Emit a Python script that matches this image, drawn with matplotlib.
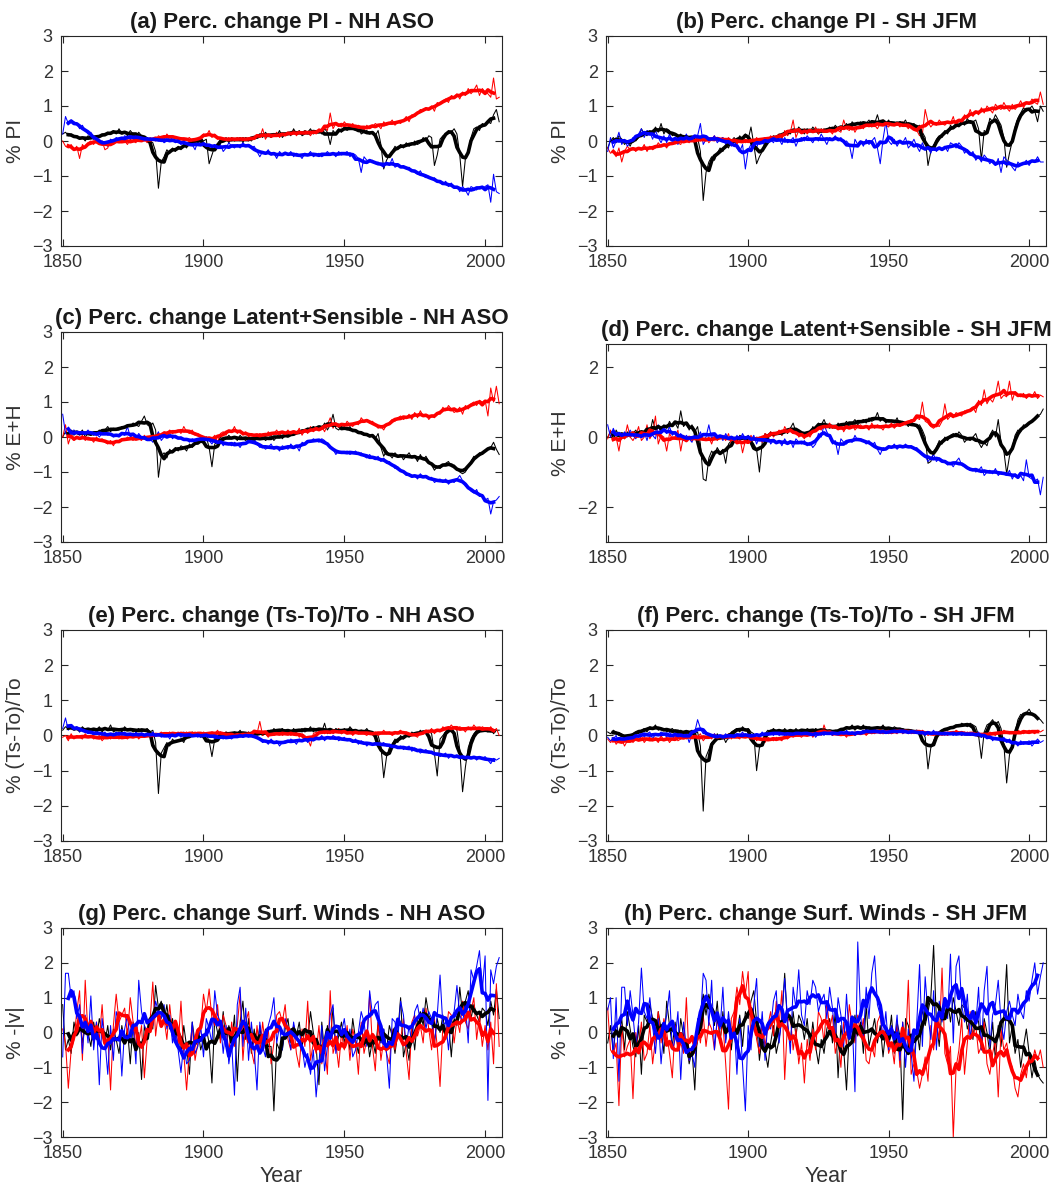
import numpy as np
import matplotlib
matplotlib.use("Agg")
import matplotlib.pyplot as plt

plt.rcParams['font.family'] = ['Liberation Sans', 'DejaVu Sans']

years = np.arange(1850, 2006)

# ---- (a) PI, NH ASO ----
pi_nh_k = [0.2, 0.25, 0.15, 0.2, 0.1, 0.15, 0.05, 0.1, 0.0, 0.15,
           0.1, 0.05, 0.15, 0.1, 0.2, 0.15, 0.25, 0.2, 0.3, 0.2,
           0.35, 0.2, 0.25, 0.15, 0.3, 0.2, 0.1, 0.25, 0.15, 0.05,
           0.1, 0.0, -0.05, -0.3, -1.35, -0.6, -0.45, -0.25, -0.35, -0.2,
           -0.3, -0.15, -0.25, -0.1, -0.2, 0.0, -0.1, 0.05, -0.05, 0.1,
           0.0, 0.05, -0.65, -0.4, -0.15, -0.1, 0.05, 0.0, 0.1, -0.05,
           0.1, 0.0, 0.05, 0.1, -0.05, 0.1, 0.05, 0.0, 0.1, 0.15,
           0.2, 0.1, 0.25, 0.15, 0.1, 0.2, 0.15, 0.3, 0.1, 0.2,
           0.25, 0.15, 0.35, 0.2, 0.3, 0.15, 0.2, 0.25, 0.35, 0.2,
           0.25, 0.3, 0.2, 0.35, 0.25, -0.1, 0.3, 0.2, 0.35, 0.25,
           0.4, 0.3, 0.45, 0.35, 0.3, 0.4, 0.2, 0.25, 0.3, 0.2,
           0.25, 0.15, 0.3, -0.1, -0.8, -0.55, -0.4, -0.3, -0.15, -0.25,
           -0.1, -0.2, -0.05, -0.15, -0.1, 0.0, -0.1, -0.05, 0.1, 0.0,
           0.15, 0.1, -0.7, -0.4, 0.05, 0.15, 0.2, 0.3, 0.25, 0.35,
           0.2, -0.4, -1.3, -0.5, -0.3, 0.1, 0.35, 0.4, 0.3, 0.5,
           0.45, 0.55, 0.5, 0.75, 0.9, 0.55]
pi_nh_r = [0.0, -0.15, -0.2, -0.1, -0.25, -0.15, -0.5, -0.1, -0.2, -0.05,
           0.0, -0.1, 0.05, -0.05, 0.0, -0.25, -0.2, 0.05, -0.1, 0.0,
           -0.05, 0.05, 0.0, -0.1, 0.05, 0.0, -0.05, 0.1, 0.0, 0.05,
           -0.05, 0.1, 0.05, 0.0, 0.15, 0.1, 0.05, 0.2, 0.1, 0.15,
           0.1, 0.05, 0.1, 0.0, 0.05, 0.1, 0.0, -0.05, 0.05, 0.1,
           0.2, 0.15, 0.3, 0.1, 0.2, 0.05, 0.1, 0.0, 0.05, 0.1,
           0.0, 0.05, 0.1, 0.0, 0.1, 0.05, 0.0, 0.1, 0.05, 0.15,
           0.1, 0.35, 0.05, 0.2, 0.1, 0.15, 0.25, 0.1, 0.2, 0.15,
           0.25, 0.2, 0.3, 0.15, 0.25, 0.2, 0.3, 0.25, 0.15, 0.3,
           0.2, 0.35, 0.25, 0.4, 0.3, 0.8, 0.35, 0.5, 0.45, 0.4,
           0.55, 0.45, 0.4, 0.5, 0.35, 0.45, 0.4, 0.3, 0.45, 0.35,
           0.4, 0.5, 0.45, 0.35, 0.55, 0.45, 0.5, 0.6, 0.45, 0.55,
           0.5, 0.6, 0.7, 0.55, 0.75, 0.7, 0.8, 0.9, 0.85, 0.95,
           0.9, 1.0, 0.85, 1.1, 1.05, 1.15, 1.2, 1.1, 1.3, 1.25,
           1.35, 1.2, 1.4, 1.3, 1.5, 1.35, 1.45, 1.6, 1.3, 1.5,
           1.4, 1.35, 1.25, 1.8, 1.2, 1.25]
pi_nh_b = [0.2, 0.7, 0.5, 0.6, 0.55, 0.5, 0.35, 0.45, 0.3, 0.2,
           0.25, 0.1, 0.05, -0.1, 0.0, -0.05, -0.15, 0.05, 0.0, 0.1,
           0.05, 0.0, 0.15, 0.1, 0.05, 0.2, 0.1, 0.05, 0.15, 0.0,
           0.1, 0.0, 0.05, 0.1, 0.0, 0.05, -0.05, 0.0, 0.1, 0.05,
           -0.05, 0.0, -0.1, 0.05, -0.15, -0.05, -0.1, -0.25, 0.0, -0.1,
           -0.05, -0.15, -0.1, -0.2, -0.1, -0.2, -0.1, -0.3, -0.2, -0.05,
           -0.15, -0.2, -0.1, -0.2, -0.05, -0.15, -0.1, -0.2, -0.15, -0.3,
           -0.45, -0.3, -0.35, -0.25, -0.4, -0.35, -0.5, -0.3, -0.4, -0.35,
           -0.4, -0.3, -0.45, -0.35, -0.4, -0.5, -0.35, -0.4, -0.3, -0.45,
           -0.4, -0.35, -0.45, -0.4, -0.3, -0.4, -0.35, -0.45, -0.3, -0.4,
           -0.35, -0.3, -0.45, -0.35, -0.4, -0.5, -0.9, -0.45, -0.55, -0.6,
           -0.55, -0.65, -0.6, -0.7, -0.75, -0.6, -0.7, -0.5, -0.75, -0.7,
           -0.75, -0.7, -0.8, -0.75, -0.85, -0.9, -0.95, -0.85, -1.0, -1.05,
           -1.0, -1.1, -1.05, -1.15, -1.2, -1.25, -1.15, -1.3, -1.2, -1.35,
           -1.3, -1.45, -1.3, -1.4, -1.55, -1.3, -1.35, -1.4, -1.3, -1.35,
           -1.3, -1.25, -1.75, -0.95, -1.45, -1.5]

# ---- (b) PI, SH JFM ----
pi_sh_k = [-0.2, 0.0, 0.1, -0.05, 0.15, 0.05, -0.1, 0.0, -0.15, 0.05,
           0.0, 0.1, 0.35, 0.2, 0.15, 0.3, 0.2, 0.4, 0.25, 0.5,
           0.2, 0.35, 0.3, 0.15, 0.2, 0.1, 0.2, 0.05, 0.15, 0.1,
           0.05, 0.15, 0.1, -0.3, -1.7, -0.9, -0.6, -0.45, -0.55, -0.35,
           -0.2, -0.3, -0.1, -0.2, 0.0, 0.1, -0.05, 0.15, 0.0, 0.2,
           0.05, 0.4, -0.1, -0.65, -0.45, -0.3, -0.05, 0.1, 0.0, 0.15,
           0.05, 0.2, 0.1, 0.25, 0.3, 0.2, 0.35, 0.25, 0.4, 0.3,
           0.2, 0.35, 0.25, 0.4, 0.3, 0.2, 0.35, 0.25, 0.3, 0.4,
           0.3, 0.45, 0.35, 0.3, 0.4, 0.5, 0.35, 0.55, 0.45, 0.5,
           0.55, 0.45, 0.5, 0.6, 0.4, 0.5, 0.75, 0.45, 0.55, 0.5,
           0.6, 0.45, 0.5, 0.55, 0.45, 0.5, 0.6, 0.4, 0.45, 0.5,
           0.4, 0.45, 0.25, 0.1, -0.7, -0.3, -0.15, 0.05, 0.15, 0.1,
           0.3, 0.2, 0.45, 0.35, 0.5, 0.4, 0.55, 0.45, 0.65, 0.5,
           0.55, 0.6, 0.35, -0.55, 0.3, 0.25, 0.65, 0.55, 0.75, 0.6,
           0.45, 0.1, -0.75, -0.35, 0.0, 0.4, 0.65, 0.8, 0.95, 0.85,
           0.9, 1.0, 0.85, 0.55, 1.0, 0.85]
pi_sh_r = [-0.2, -0.35, -0.3, -0.45, -0.2, -0.6, -0.3, -0.15, -0.25, -0.2,
           -0.3, -0.2, -0.25, -0.1, -0.3, -0.15, -0.25, -0.2, -0.05, -0.15,
           -0.1, -0.2, -0.05, -0.1, 0.05, -0.05, -0.1, 0.1, 0.0, -0.05,
           0.05, -0.05, 0.1, 0.0, 0.05, 0.1, -0.05, 0.05, 0.15, 0.0,
           0.05, 0.1, -0.05, 0.1, 0.0, 0.05, -0.1, 0.05, 0.0, -0.05,
           0.0, 0.05, -0.05, 0.1, 0.0, 0.05, 0.1, 0.0, 0.15, 0.05,
           0.1, 0.2, 0.05, 0.3, 0.15, 0.25, 0.6, 0.1, 0.3, 0.25,
           0.35, 0.2, 0.3, 0.25, 0.4, 0.2, 0.3, 0.35, 0.25, 0.3,
           0.2, 0.4, 0.3, 0.25, 0.6, 0.35, 0.3, 0.45, 0.25, 0.4,
           0.45, 0.35, 0.5, 0.4, 0.55, 0.45, 0.35, 0.5, 0.6, 0.45,
           0.4, 0.55, 0.45, 0.5, 0.4, 0.55, 0.45, 0.35, 0.5, 0.4,
           0.3, 0.15, 0.2, 0.9, 0.55, 0.4, 0.5, 0.45, 0.6, 0.5,
           0.45, 0.55, 0.5, 0.7, 0.4, 0.6, 0.5, 0.75, 0.65, 0.9,
           0.7, 0.85, 0.75, 0.95, 0.8, 1.0, 0.9, 0.8, 1.05, 0.95,
           0.9, 1.1, 0.95, 0.85, 1.05, 0.9, 1.0, 1.15, 0.95, 1.1,
           1.05, 1.2, 1.1, 1.05, 1.4, 1.05]
pi_sh_b = [-0.3, 0.1, -0.2, 0.0, 0.25, -0.1, 0.05, -0.15, -0.05, 0.1,
           0.05, 0.2, 0.35, 0.1, 0.3, 0.25, 0.05, 0.3, 0.1, -0.05,
           0.15, -0.05, 0.2, 0.0, 0.1, -0.1, 0.15, 0.05, 0.2, 0.0,
           0.1, -0.05, 0.15, 0.5, -0.1, 0.05, 0.1, 0.05, 0.15, -0.05,
           0.05, 0.1, -0.1, 0.0, -0.15, 0.05, -0.2, -0.3, -0.1, -0.8,
           -0.25, -0.1, 0.0, -0.2, 0.05, 0.0, -0.15, 0.1, 0.05, -0.05,
           0.15, 0.05, -0.1, 0.1, -0.05, 0.0, 0.1, -0.15, 0.05, 0.1,
           0.0, 0.15, 0.05, -0.05, 0.1, 0.0, 0.2, 0.05, -0.1, 0.1,
           0.05, 0.15, 0.0, 0.1, -0.05, 0.0, -0.1, -0.5, 0.05, -0.1,
           0.0, -0.15, 0.05, -0.1, 0.0, 0.1, -0.2, -0.65, 0.05, 0.55,
           0.0, -0.1, 0.05, -0.15, 0.0, -0.05, 0.1, -0.2, -0.1, 0.05,
           -0.15, -0.3, -0.05, -0.25, -0.2, -0.35, -0.1, -0.3, -0.2, -0.25,
           -0.15, -0.3, -0.05, -0.1, -0.2, -0.05, -0.15, -0.35, -0.25, -0.4,
           -0.3, -0.55, -0.45, -0.6, -0.4, -0.5, -0.65, -0.55, -0.7, -0.5,
           -0.9, -0.45, -0.55, -0.6, -0.75, -0.85, -0.6, -0.7, -0.65, -0.55,
           -0.7, -0.55, -0.6, -0.45, -0.6, -0.6]

# ---- (c) E+H, NH ASO ----
eh_nh_k = [0.0, 0.15, 0.1, 0.2, 0.05, 0.15, 0.1, 0.2, 0.0, 0.1,
           0.15, 0.05, 0.1, 0.2, 0.1, 0.2, 0.3, 0.15, 0.25, 0.2,
           0.2, 0.3, 0.25, 0.35, 0.3, 0.4, 0.35, 0.3, 0.45, 0.6,
           0.35, 0.3, 0.4, 0.2, -1.15, -0.55, -0.45, -0.6, -0.35, -0.45,
           -0.3, -0.4, -0.25, -0.3, -0.4, -0.2, -0.3, -0.15, -0.2, -0.05,
           -0.15, 0.0, -0.3, -0.85, -0.2, -0.15, 0.0, -0.1, -0.05, 0.05,
           -0.05, 0.0, -0.1, 0.05, -0.05, -0.1, 0.0, -0.05, -0.1, 0.0,
           -0.05, 0.0, -0.1, -0.05, 0.05, -0.1, 0.0, 0.1, -0.05, 0.05,
           0.0, 0.1, 0.05, 0.15, 0.1, 0.2, 0.15, 0.25, 0.2, 0.3,
           0.2, 0.3, 0.25, 0.4, 0.2, 0.35, 0.65, 0.25, 0.2, 0.3,
           0.25, 0.2, 0.3, 0.15, 0.2, 0.1, 0.15, 0.05, 0.1, 0.0,
           0.05, -0.05, 0.1, -0.3, -0.55, -0.4, -0.5, -0.6, -0.45, -0.55,
           -0.5, -0.65, -0.55, -0.45, -0.6, -0.55, -0.7, -0.5, -0.65, -0.55,
           -0.7, -0.8, -0.95, -0.85, -0.9, -0.8, -0.75, -0.7, -0.85, -0.8,
           -0.9, -1.0, -1.05, -1.0, -0.85, -0.7, -0.55, -0.6, -0.45, -0.5,
           -0.4, -0.35, -0.3, -0.15, -0.35, -0.5]
eh_nh_r = [0.0, 0.35, -0.2, 0.05, -0.1, 0.0, -0.05, 0.05, -0.1, 0.0,
           -0.05, -0.15, 0.0, -0.1, -0.05, -0.15, -0.2, -0.1, -0.25, -0.1,
           -0.15, -0.05, -0.1, 0.0, -0.05, -0.1, 0.0, -0.05, -0.1, 0.05,
           -0.05, 0.0, 0.05, -0.05, 0.1, 0.0, 0.15, 0.1, 0.2, 0.1,
           0.15, 0.2, 0.1, 0.3, 0.15, 0.1, 0.2, 0.05, 0.1, 0.0,
           -0.05, 0.0, -0.1, -0.05, 0.05, -0.15, 0.1, 0.15, 0.05, 0.2,
           0.15, 0.3, 0.1, 0.2, 0.05, 0.15, 0.0, 0.1, 0.05, 0.0,
           0.1, 0.05, 0.0, 0.15, 0.05, 0.1, 0.2, 0.05, 0.15, 0.1,
           0.2, 0.05, 0.15, 0.1, 0.25, 0.05, 0.2, 0.1, 0.3, 0.15,
           0.25, 0.2, 0.3, 0.15, 0.35, 0.55, 0.25, 0.4, 0.3, 0.35,
           0.3, 0.45, 0.35, 0.3, 0.4, 0.35, 0.55, 0.45, 0.5, 0.4,
           0.45, 0.35, 0.25, 0.3, 0.2, 0.35, 0.4, 0.5, 0.45, 0.55,
           0.6, 0.5, 0.55, 0.65, 0.5, 0.7, 0.55, 0.75, 0.6, 0.65,
           0.5, 0.6, 0.55, 0.7, 0.65, 0.85, 0.75, 0.9, 0.8, 0.7,
           0.75, 0.85, 0.65, 0.9, 0.8, 0.95, 1.0, 0.9, 1.05, 1.0,
           1.05, 0.6, 1.4, 1.0, 1.45, 0.95]
eh_nh_b = [0.65, 0.1, 0.05, 0.15, 0.2, 0.1, 0.05, 0.15, 0.1, 0.2,
           0.05, 0.15, 0.1, 0.0, 0.1, 0.2, 0.05, 0.1, 0.0, 0.05,
           0.0, 0.1, 0.05, 0.3, 0.0, 0.05, -0.05, 0.1, 0.0, -0.05,
           -0.1, -0.05, -0.15, 0.0, 0.15, -0.1, 0.0, 0.05, 0.1, -0.05,
           0.05, -0.05, 0.0, -0.1, -0.05, -0.15, -0.05, -0.1, -0.15, 0.0,
           -0.05, 0.0, -0.1, -0.2, -0.05, -0.15, -0.1, -0.25, -0.15, -0.2,
           -0.25, -0.15, -0.2, -0.3, -0.15, -0.2, -0.1, -0.15, -0.05, -0.2,
           -0.3, -0.25, -0.35, -0.3, -0.2, -0.35, -0.3, -0.4, -0.25, -0.3,
           -0.35, -0.2, -0.3, -0.25, -0.4, -0.15, -0.2, -0.1, -0.15, -0.05,
           -0.1, -0.15, -0.05, -0.1, -0.2, -0.3, -0.35, -0.5, -0.4, -0.45,
           -0.45, -0.4, -0.5, -0.45, -0.4, -0.5, -0.45, -0.55, -0.6, -0.5,
           -0.6, -0.65, -0.55, -0.7, -0.6, -0.75, -0.7, -0.8, -0.9, -0.85,
           -0.95, -1.0, -1.1, -1.05, -1.15, -1.1, -1.2, -1.05, -1.15, -1.1,
           -1.2, -1.15, -1.3, -1.25, -1.2, -1.3, -1.2, -1.35, -1.25, -1.3,
           -1.2, -1.1, -1.25, -1.4, -1.45, -1.55, -1.6, -1.5, -1.7, -1.65,
           -1.8, -1.75, -2.2, -1.85, -1.8, -1.7]

# ---- (d) E+H, SH JFM ----
eh_sh_k = [0.0, 0.15, -0.1, 0.2, 0.05, 0.1, -0.05, 0.15, 0.0, 0.1,
           0.2, 0.05, 0.15, 0.1, 0.25, 0.1, 0.5, 0.2, 0.3, 0.15,
           0.35, 0.25, 0.45, 0.3, 0.4, 0.25, 0.75, 0.3, 0.4, 0.2,
           0.35, 0.15, 0.3, -0.2, -1.2, -1.25, -0.6, -0.4, -0.5, -0.3,
           -0.45, -0.35, -0.75, -0.2, -0.1, 0.0, -0.15, 0.05, 0.0, -0.1,
           0.05, -0.1, -0.2, -0.35, -1.0, -0.15, 0.1, 0.0, 0.15, 0.05,
           0.1, 0.15, 0.05, 0.2, 0.1, 0.25, 0.4, 0.15, 0.2, 0.1,
           0.0, 0.15, 0.05, 0.3, 0.2, 0.4, 0.35, 0.5, 0.3, 0.25,
           0.3, 0.25, 0.4, 0.3, 0.35, 0.45, 0.3, 0.4, 0.5, 0.35,
           0.45, 0.5, 0.4, 0.55, 0.45, 0.5, 0.7, 0.45, 0.55, 0.4,
           0.5, 0.45, 0.4, 0.55, 0.35, 0.45, 0.4, 0.3, 0.45, 0.35,
           0.3, 0.35, 0.2, 0.0, -0.75, -0.7, -0.45, -0.3, -0.1, -0.2,
           0.0, -0.1, 0.05, 0.1, 0.0, 0.15, 0.05, -0.15, -0.05, -0.1,
           0.0, 0.1, -0.15, -0.3, -0.15, -0.25, 0.05, 0.2, 0.0, 0.5,
           -0.15, -0.4, -1.05, -0.55, -0.3, 0.05, 0.2, 0.15, 0.35, 0.3,
           0.4, 0.45, 0.5, 0.6, 0.65, 0.8]
eh_sh_r = [-0.05, 0.2, -0.1, 0.0, -0.4, 0.1, -0.05, 0.35, 0.0, -0.1,
           0.05, 0.3, -0.1, 0.0, 0.35, -0.05, 0.1, 0.6, -0.2, 0.05,
           0.0, -0.4, 0.1, -0.05, 0.0, 0.2, -0.4, 0.05, -0.05, 0.0,
           -0.1, 0.05, -0.15, 0.0, -0.05, -0.1, 0.0, -0.2, 0.05, -0.1,
           0.0, 0.05, -0.1, 0.1, -0.2, -0.05, -0.1, 0.0, -0.45, -0.1,
           -0.15, 0.05, -0.1, 0.0, -0.05, -0.15, 0.1, 0.05, 0.15, 0.0,
           0.1, 0.2, 0.05, 0.3, 0.15, 0.2, 0.1, 0.25, 0.0, 0.05,
           -0.05, 0.1, 0.0, 0.15, 0.3, 0.25, 0.2, 0.35, 0.3, 0.4,
           0.25, 0.3, 0.2, 0.35, 0.15, 0.3, 0.25, 0.4, 0.2, 0.3,
           0.35, 0.25, 0.3, 0.2, 0.4, 0.25, 0.35, 0.3, 0.2, 0.35,
           0.3, 0.4, 0.25, 0.35, 0.3, 0.45, 0.35, 0.4, 0.5, 0.45,
           0.55, 0.5, 1.0, 0.45, 0.4, 0.3, 0.25, 0.35, 0.3, 0.45,
           0.95, 0.5, 0.6, 0.55, 0.7, 0.65, 0.6, 0.75, 0.7, 0.8,
           0.85, 0.7, 1.05, 0.9, 1.35, 0.95, 1.1, 1.0, 1.2, 1.6,
           1.1, 1.2, 1.15, 1.6, 1.05, 1.3, 1.2, 1.15, 1.25, 1.1,
           1.2, 1.15, 1.3, 1.1, 1.2, 1.15]
eh_sh_b = [0.35, 0.0, 0.25, 0.05, 0.1, -0.05, 0.15, 0.0, 0.2, 0.05,
           -0.05, 0.1, 0.0, 0.15, -0.1, 0.2, 0.05, -0.05, 0.35, 0.1,
           0.2, 0.1, 0.3, 0.05, 0.15, 0.0, 0.1, -0.1, 0.05, -0.05,
           -0.15, 0.1, -0.05, 0.15, -0.1, 0.0, 0.35, -0.05, 0.1, 0.0,
           0.05, -0.1, 0.1, -0.05, 0.0, -0.15, 0.05, -0.1, 0.1, -0.05,
           0.0, -0.1, 0.05, -0.2, 0.0, -0.1, -0.15, 0.05, -0.2, -0.1,
           -0.15, -0.1, -0.25, -0.05, -0.2, -0.1, -0.3, -0.05, -0.15, -0.2,
           -0.1, -0.25, -0.15, -0.3, -0.2, 0.1, 0.0, 0.35, 0.15, 0.0,
           -0.2, -0.1, -0.5, -0.05, -0.15, -0.2, -0.1, -0.15, 0.05, -0.1,
           -0.05, -0.1, -0.2, -0.1, -0.25, -0.15, -0.35, -0.5, -0.3, -0.35,
           -0.25, -0.3, -0.2, -0.35, -0.25, -0.3, -0.2, -0.3, -0.25, -0.35,
           -0.3, -0.4, -0.5, -0.55, -0.7, -0.6, -0.5, -0.7, -0.6, -0.65,
           -0.7, -0.8, -0.75, -0.85, -0.7, -0.6, -0.8, -0.85, -0.9, -0.95,
           -0.9, -1.0, -0.95, -0.85, -1.1, -1.0, -0.95, -1.05, -0.9, -1.1,
           -1.0, -1.05, -1.1, -0.95, -1.2, -1.05, -1.15, -1.1, -1.25, -0.65,
           -1.15, -1.2, -1.25, -1.2, -1.65, -1.15]

# ---- (e) (Ts-To)/To, NH ASO ----
ts_nh_k = [0.15, 0.25, 0.2, 0.3, 0.15, 0.2, 0.1, 0.25, 0.15, 0.2,
           0.1, 0.2, 0.15, 0.25, 0.1, 0.2, 0.15, 0.3, 0.1, 0.15,
           0.2, 0.1, 0.25, 0.15, 0.2, 0.1, 0.15, 0.2, 0.1, 0.15,
           0.2, 0.1, 0.15, -0.2, -1.65, -0.5, -0.35, -0.2, -0.3, -0.1,
           -0.2, -0.15, -0.1, -0.2, 0.0, -0.05, 0.1, 0.0, 0.05, -0.05,
           0.05, 0.0, -0.15, -0.6, -0.1, -0.05, 0.1, 0.0, 0.1, 0.05,
           0.0, 0.1, 0.05, 0.15, 0.0, 0.05, 0.1, 0.0, 0.05, 0.1,
           0.05, 0.0, 0.1, 0.15, 0.05, 0.2, 0.1, 0.15, 0.2, 0.1,
           0.15, 0.05, 0.2, 0.1, 0.15, 0.2, 0.1, 0.15, 0.25, 0.1,
           0.2, 0.15, 0.1, 0.35, 0.05, 0.15, 0.1, 0.2, 0.15, 0.05,
           0.2, 0.1, 0.25, 0.15, 0.1, 0.05, 0.15, 0.1, 0.2, 0.05,
           0.1, 0.05, 0.0, -0.3, -1.2, -0.6, -0.35, -0.25, -0.1, -0.2,
           0.0, -0.1, 0.05, -0.05, 0.1, 0.0, 0.05, 0.15, 0.05, 0.1,
           0.15, 0.05, -0.5, -1.15, -0.1, 0.0, 0.1, 0.2, 0.1, 0.25,
           0.15, -0.4, -1.6, -0.9, -0.35, -0.1, 0.05, 0.15, 0.1, 0.2,
           0.15, 0.1, 0.2, 0.05, 0.15, 0.15]
ts_nh_r = [-0.05, 0.0, -0.15, 0.05, -0.1, 0.0, -0.05, -0.1, 0.05, -0.05,
           0.0, -0.1, -0.05, 0.0, -0.15, -0.05, 0.0, -0.1, 0.0, -0.05,
           -0.1, 0.0, -0.05, -0.1, 0.0, -0.05, 0.05, -0.1, 0.0, -0.05,
           0.0, 0.05, -0.05, 0.05, 0.0, 0.1, 0.0, 0.05, 0.1, 0.0,
           0.05, 0.1, 0.0, 0.05, 0.1, 0.0, 0.05, 0.1, 0.05, 0.0,
           0.1, 0.05, 0.0, 0.1, 0.05, 0.15, 0.0, 0.05, 0.1, -0.05,
           0.05, 0.0, 0.05, -0.05, 0.05, 0.0, 0.1, 0.05, 0.0, 0.05,
           0.4, 0.0, 0.05, -0.05, 0.1, 0.0, 0.05, 0.1, 0.0, 0.05,
           0.1, 0.0, 0.05, 0.1, -0.05, 0.05, 0.0, -0.1, -0.3, 0.05,
           0.1, 0.05, 0.15, 0.05, 0.1, 0.15, 0.05, 0.1, 0.2, 0.05,
           0.1, 0.05, 0.15, 0.0, 0.1, 0.05, 0.15, 0.05, 0.0, 0.1,
           0.05, 0.1, 0.0, 0.05, 0.15, 0.05, 0.1, 0.0, 0.05, 0.1,
           0.15, 0.05, 0.1, 0.0, 0.05, 0.0, -0.05, 0.1, 0.05, 0.15,
           0.1, 0.2, 0.05, 0.15, 0.1, 0.25, 0.15, 0.2, 0.3, 0.2,
           0.15, 0.25, 0.2, 0.1, 0.25, 0.15, 0.3, 0.2, 0.1, 0.25,
           0.2, 0.15, 0.25, 0.1, 0.2, 0.0]
ts_nh_b = [0.2, 0.5, 0.15, 0.3, 0.2, 0.25, 0.1, 0.2, 0.15, 0.05,
           0.1, 0.0, 0.15, 0.05, 0.0, 0.1, -0.05, 0.05, 0.0, 0.1,
           0.0, 0.05, 0.1, 0.0, 0.05, -0.05, 0.1, 0.0, 0.05, 0.0,
           0.05, -0.05, 0.1, 0.0, 0.05, -0.05, 0.0, 0.05, -0.1, 0.05,
           0.0, 0.05, -0.05, 0.1, 0.0, -0.05, 0.05, 0.0, -0.05, 0.05,
           0.0, -0.05, 0.05, 0.0, -0.1, 0.0, -0.05, -0.1, 0.0, -0.05,
           -0.1, 0.0, -0.05, 0.05, -0.05, 0.0, -0.05, 0.05, 0.0, -0.05,
           -0.1, -0.2, -0.15, -0.25, -0.1, -0.2, -0.15, -0.3, -0.2, -0.15,
           -0.2, -0.1, -0.15, -0.25, -0.1, -0.15, -0.05, -0.2, -0.1, -0.15,
           -0.05, -0.1, 0.0, -0.15, -0.05, -0.1, 0.0, -0.05, -0.15, -0.1,
           -0.05, -0.15, -0.1, -0.2, -0.1, -0.25, -0.15, -0.2, -0.3, -0.2,
           -0.25, -0.2, -0.3, -0.25, -0.2, -0.3, -0.25, -0.35, -0.3, -0.35,
           -0.3, -0.4, -0.35, -0.3, -0.45, -0.35, -0.4, -0.5, -0.45, -0.4,
           -0.5, -0.45, -0.55, -0.5, -0.6, -0.55, -0.5, -0.65, -0.55, -0.6,
           -0.55, -0.65, -0.6, -0.7, -0.55, -0.65, -0.6, -0.7, -0.6, -0.65,
           -0.6, -0.7, -0.8, -0.65, -0.7, -0.65]

# ---- (f) (Ts-To)/To, SH JFM ----
ts_sh_k = [0.1, 0.05, 0.15, 0.1, 0.0, 0.05, -0.05, -0.1, 0.0, 0.05,
           0.1, 0.05, 0.15, 0.2, 0.1, 0.25, 0.2, 0.3, 0.15, 0.2,
           0.2, 0.1, 0.15, 0.2, 0.1, 0.05, 0.15, 0.1, 0.05, 0.1,
           0.15, 0.05, 0.1, -0.3, -2.15, -0.6, -0.4, -0.2, -0.15, 0.05,
           -0.1, 0.0, -0.2, -0.05, 0.1, 0.15, 0.2, 0.1, 0.25, 0.15,
           0.2, 0.1, 0.05, -1.0, -0.35, -0.2, 0.05, 0.15, 0.1, 0.2,
           0.1, 0.15, 0.05, 0.2, 0.1, 0.15, 0.05, 0.2, 0.1, 0.15,
           0.1, 0.2, 0.15, 0.05, 0.2, 0.15, 0.1, 0.2, 0.15, 0.1,
           0.05, 0.15, 0.1, 0.2, 0.15, 0.25, 0.2, 0.3, 0.15, 0.25,
           0.2, 0.3, 0.15, 0.25, 0.2, 0.15, 0.25, 0.2, 0.3, 0.15,
           0.2, 0.15, 0.25, 0.2, 0.1, 0.2, 0.15, 0.1, 0.15, 0.1,
           0.15, 0.05, 0.1, -0.05, -0.95, -0.35, -0.15, 0.05, 0.1, 0.15,
           0.2, 0.15, 0.25, 0.2, 0.3, 0.25, 0.35, 0.3, 0.25, 0.35,
           0.3, 0.25, 0.0, -0.65, 0.1, 0.3, 0.35, 0.45, 0.3, 0.4,
           0.2, -0.25, -1.35, -0.55, -0.3, 0.1, 0.45, 0.6, 0.55, 0.65,
           0.75, 0.6, 0.55, 0.5, 0.45, 0.35]
ts_sh_r = [-0.1, -0.2, -0.05, -0.25, -0.15, -0.1, -0.3, -0.15, -0.05, -0.2,
           -0.1, -0.15, 0.0, -0.2, -0.1, -0.05, -0.15, -0.1, -0.2, 0.0,
           -0.15, -0.05, -0.2, -0.1, 0.0, -0.15, -0.1, 0.05, -0.1, -0.05,
           0.0, -0.1, -0.05, 0.05, -0.15, -0.05, 0.0, -0.1, 0.05, -0.05,
           0.0, -0.1, -0.05, 0.05, -0.1, 0.0, -0.05, -0.1, 0.05, 0.0,
           -0.05, -0.1, 0.0, -0.15, -0.05, -0.1, -0.2, -0.05, -0.1, -0.15,
           -0.05, -0.1, -0.15, 0.0, -0.1, 0.05, -0.05, 0.1, 0.0, -0.05,
           0.05, 0.0, 0.1, -0.05, 0.05, 0.15, 0.0, 0.3, 0.05, 0.1,
           0.0, 0.05, 0.1, 0.0, 0.05, -0.05, 0.1, 0.05, 0.0, 0.1,
           0.05, 0.15, 0.0, 0.1, 0.05, 0.2, 0.1, 0.05, 0.15, 0.1,
           0.05, 0.15, 0.1, 0.05, 0.2, 0.1, 0.15, 0.05, 0.1, 0.15,
           0.1, 0.05, 0.15, 0.1, 0.0, 0.05, 0.1, 0.0, 0.05, 0.1,
           0.05, 0.0, 0.1, 0.05, 0.15, 0.1, 0.0, 0.05, 0.1, 0.05,
           0.0, 0.1, 0.05, -0.05, 0.05, 0.0, 0.1, 0.05, 0.0, 0.1,
           0.05, 0.15, 0.1, 0.05, 0.1, 0.0, 0.15, 0.1, 0.05, 0.1,
           0.15, 0.1, 0.05, 0.15, 0.1, 0.15]
ts_sh_b = [-0.05, -0.15, -0.1, 0.0, -0.2, -0.1, -0.05, -0.15, 0.0, -0.1,
           -0.05, 0.0, 0.1, -0.05, 0.05, 0.1, -0.1, 0.05, 0.0, 0.1,
           0.05, -0.05, 0.1, 0.0, -0.1, 0.05, 0.1, -0.05, 0.05, -0.2,
           0.05, 0.1, 0.45, 0.2, 0.05, 0.1, 0.0, -0.05, 0.05, -0.1,
           0.0, -0.05, 0.05, -0.1, 0.0, 0.05, -0.05, 0.0, 0.1, -0.05,
           0.0, 0.05, -0.1, 0.05, 0.0, 0.1, -0.05, 0.05, 0.1, 0.0,
           0.15, 0.0, 0.05, 0.1, -0.05, 0.1, 0.05, 0.0, 0.1, 0.05,
           0.1, 0.0, 0.05, 0.1, -0.05, 0.05, 0.1, 0.0, 0.15, 0.05,
           0.0, 0.1, 0.05, 0.1, 0.0, 0.15, 0.05, 0.1, 0.0, 0.05,
           0.1, 0.15, 0.05, 0.1, 0.2, 0.05, 0.15, 0.1, 0.05, 0.15,
           0.1, 0.05, 0.15, 0.1, 0.2, 0.05, 0.1, 0.15, 0.05, 0.1,
           0.15, 0.05, 0.1, 0.0, 0.1, 0.05, 0.15, 0.0, 0.05, 0.1,
           0.0, 0.1, 0.05, 0.0, 0.1, 0.05, 0.0, 0.1, 0.05, 0.0,
           0.05, 0.0, 0.1, -0.05, 0.05, -0.1, 0.0, -0.15, -0.05, -0.1,
           -0.15, -0.05, -0.2, -0.1, -0.25, -0.2, -0.3, -0.15, -0.25, -0.2,
           -0.15, -0.3, -0.2, -0.1, -0.2, -0.15]

# ---- (g) surface winds, NH ASO ----
uv_nh_k = [0.8, -0.5, -0.2, -0.6, 0.3, -0.1, 0.5, -0.3, 0.2, 0.0,
           -0.4, 0.3, -0.2, 0.4, 0.0, -0.3, 0.2, -0.5, 0.1, -0.2,
           -0.6, 0.2, -0.3, 0.1, -0.9, 0.3, -0.5, 0.0, -1.35, 0.2,
           -0.2, 0.4, 0.1, 1.35, 0.7, 0.9, 0.3, 0.8, 0.1, 0.4,
           -0.2, 0.1, -0.6, 0.2, -0.4, -1.2, 0.3, -0.3, 0.1, -0.5,
           -0.2, 0.1, -0.3, -1.45, 0.4, 0.0, -0.2, 0.6, -0.4, 0.2,
           -0.3, 0.5, -1.4, 0.3, 0.9, -0.2, 0.4, -0.6, 0.1, -0.4,
           0.2, -0.5, 0.1, -0.4, -0.4, -2.25, -0.3, -0.5, -0.5, 0.1,
           0.4, -0.3, 0.2, -0.1, 0.3, -0.4, 0.1, -0.2, 0.6, 0.0,
           -0.4, -1.5, 0.3, -0.6, 0.2, -0.2, 0.7, -0.5, -0.1, 0.3,
           -0.3, 0.1, -0.5, 0.4, -0.2, -0.6, 0.2, -0.4, 0.0, -0.7,
           -0.2, -0.6, 0.3, -0.3, 0.1, -0.5, 0.2, -0.1, -0.6, 0.0,
           1.0, -0.7, -0.3, -0.8, 0.2, -0.5, 0.4, 0.6, 0.2, 1.0,
           0.5, 0.3, -0.3, 0.4, 0.0, 0.5, -0.2, 0.3, -0.7, 0.4,
           0.2, 1.3, 0.5, 0.9, 1.2, 0.4, 0.8, 0.5, 0.3, 0.7,
           0.6, 0.2, 0.9, 0.5, 1.25, 0.4]
uv_nh_r = [0.1, -0.3, -1.6, -0.5, -0.2, 0.6, 1.2, -0.8, 1.5, -0.1,
           0.2, -0.3, 0.3, -0.2, 0.8, -0.4, -0.1, -1.65, 0.2, 1.1,
           0.3, 0.5, 0.7, -0.1, 1.0, 0.3, -0.5, -0.3, 0.2, -1.3,
           -0.2, 0.3, 1.45, -0.1, 0.6, 0.2, 0.4, -0.2, 0.8, 0.0,
           0.3, -0.4, 0.9, -0.6, -1.65, -0.5, 0.2, -0.8, -0.3, 0.1,
           1.1, 0.6, 1.25, 0.4, 0.2, 0.8, -0.3, 0.5, 0.2, -0.6,
           0.3, -0.4, 0.2, 1.1, -0.8, 0.3, 0.6, -0.5, -0.9, 0.2,
           -0.6, 0.3, -0.4, 0.1, -0.9, -0.3, 0.5, 0.6, 0.3, 0.8,
           -0.2, -0.5, 0.2, -0.6, -1.0, 0.1, -0.4, 0.9, -0.8, -0.3,
           -0.6, 0.2, -0.9, -0.4, -1.2, 1.2, -0.6, -0.3, -1.0, 0.0,
           -0.5, 0.2, -0.8, 0.1, -0.3, -1.2, 0.3, -0.6, -0.2, 1.1,
           -0.4, -1.1, 0.3, -0.8, -0.2, -0.6, -0.9, 0.1, -0.5, 0.0,
           -0.2, 0.4, -0.6, -1.35, 0.3, 0.5, -0.1, 0.2, -0.3, 0.7,
           0.1, -0.5, 0.4, -0.4, -1.55, 0.2, -0.2, 0.6, 0.5, -0.3,
           0.4, 0.0, 0.9, 0.3, 0.1, 0.6, 1.0, -0.2, 0.5, -0.4,
           0.2, -0.5, 0.3, -0.9, 1.4, -0.4]
uv_nh_b = [-0.7, 1.7, 1.7, 1.0, 1.2, 0.4, 0.8, -0.6, 0.5, -0.3,
           1.05, -0.5, 0.3, -1.5, 0.4, -0.2, -1.2, 0.2, -0.8, 0.6,
           0.3, -1.25, 0.1, 0.5, -0.3, 0.2, -0.9, 1.5, 0.6, 0.2,
           0.0, 0.4, 0.2, 0.9, 0.6, 0.4, 0.8, 0.1, 0.5, -0.3,
           0.2, -0.5, -1.15, -0.3, -0.9, -0.8, 0.3, -0.6, -0.4, 0.2,
           -0.7, 0.4, 0.1, -0.3, 1.2, 0.5, 0.3, -0.6, 0.2, -0.9,
           -0.3, -1.8, 0.8, 1.3, -0.4, 0.7, -0.8, 0.3, -0.5, -1.65,
           0.3, -0.4, -0.7, 0.2, 0.5, 1.0, -0.3, 0.2, -0.5, 0.4,
           0.1, -0.5, 0.3, -0.2, 0.0, -0.4, -1.0, -0.6, -1.2, -0.5,
           -1.85, -0.9, 0.2, -1.1, -0.4, 0.5, 0.8, -0.6, 0.2, 0.0,
           0.4, -0.3, 0.1, -0.7, -0.5, 0.0, 0.6, 0.3, -0.4, 1.2,
           0.5, 0.8, 0.9, -0.3, 0.1, -0.6, -1.6, 0.4, 0.3, -0.2,
           0.9, 0.5, -0.4, 0.2, -0.3, 0.6, 0.8, 0.3, 0.7, 0.1,
           0.6, 0.4, -0.3, 0.5, 1.65, 0.2, 0.3, -0.5, 0.4, 0.6,
           1.35, 0.5, 0.3, 0.8, -0.3, 1.8, 1.5, 1.9, 2.35, 1.2,
           2.2, -1.95, 1.8, 1.4, 1.9, 2.15]

# ---- (h) surface winds, SH JFM ----
uv_sh_k = [-0.3, 0.2, -0.6, 0.3, -0.1, 0.4, -0.5, 0.6, 0.1, -0.4,
           -0.7, 0.2, -1.2, 0.5, 0.3, 0.8, 0.4, -0.2, 0.6, 0.1,
           -0.6, 0.9, 0.2, -0.4, 0.3, -0.5, 0.4, -0.1, -0.3, -0.9,
           -0.5, -1.65, 0.2, 0.6, 1.1, 0.5, 1.1, 0.7, 0.2, 0.9,
           -0.3, 0.6, -0.2, 0.4, -0.5, 0.3, 0.0, 0.5, -0.4, 0.6,
           0.4, 0.9, 1.2, 0.3, -0.8, -0.1, -0.5, -1.0, -0.3, 0.2,
           -0.6, -0.2, 0.4, 1.7, 0.2, -0.3, 0.6, -0.1, 0.5, 0.3,
           -0.2, 0.4, -0.5, 0.3, -0.4, -0.9, -0.2, -0.6, 0.1, 0.4,
           -0.3, 0.6, -1.3, 0.2, -0.5, -1.65, 0.1, -0.2, 0.5, -0.1,
           0.3, -0.6, 0.8, -0.4, 0.0, 0.4, -0.3, 0.2, -0.7, 0.1,
           -0.2, 0.5, -0.6, 0.3, -0.1, -2.5, 0.4, 0.2, -0.3, -0.8,
           0.1, -0.5, 0.7, 0.2, 0.6, 1.0, 2.5, 0.3, -0.4, 0.7,
           0.5, 0.9, 0.3, 1.0, 0.6, 0.2, 0.8, 0.7, 0.1, 0.4,
           -0.2, 0.6, 0.3, -0.5, 0.4, 0.0, -0.6, 0.3, -0.8, 0.2,
           -0.4, 0.5, 1.95, -0.3, 0.2, -0.6, -0.2, -1.0, -0.4, 0.1,
           -0.6, -1.3, -0.8, -1.2, -1.35, -1.45]
uv_sh_r = [0.7, -0.5, -0.6, -0.3, -2.1, 0.2, -0.7, -0.4, -0.2, -1.9,
           0.0, -0.5, 0.3, -0.8, -0.6, 0.2, -0.9, -0.2, 0.6, -0.3,
           0.4, 0.0, -0.6, -1.3, 0.2, -0.5, -0.3, -0.6, 1.0, -0.8,
           -0.4, -0.6, 0.2, -0.3, 0.5, -0.4, 0.3, 0.1, -0.5, 0.4,
           -0.2, 0.3, -0.9, -2.2, 0.4, 0.6, 1.3, 0.8, 1.75, 1.1,
           1.75, -0.3, 0.5, -0.2, -0.6, 0.3, -0.4, 0.2, 0.6, -0.1,
           0.9, 0.2, 1.2, -1.35, 0.3, 0.5, -0.5, 0.1, -0.9, -0.3,
           -1.45, -0.2, -0.8, 0.1, -0.5, 0.6, 0.4, -0.3, 0.9, 0.1,
           0.5, -0.6, -0.2, -1.0, 0.3, -0.4, 0.8, 0.2, -0.3, 0.5,
           -0.1, 0.4, -0.8, -0.9, -0.4, -0.7, 0.3, 0.5, -0.2, 0.1,
           -0.6, -0.3, -0.9, 0.2, -1.0, 0.3, -0.4, 1.5, -1.2, -0.9,
           -1.1, -1.6, -1.2, -0.7, -1.4, 0.2, -0.5, 0.3, -0.2, 1.85,
           -0.6, -0.9, -0.4, -3.0, -1.0, -0.5, 0.4, -1.2, -0.3, 0.6,
           -0.1, 0.2, -0.6, -0.4, 0.3, -0.9, -1.2, -0.6, -0.2, -1.85,
           0.1, -0.5, -0.3, -0.8, -1.0, -1.6, -1.85, -1.2, -0.9, -1.3,
           -0.6, -0.9, -0.5, -0.8, -0.5, -1.0]
uv_sh_b = [0.65, 1.0, -0.75, 1.0, -1.4, 1.3, 1.3, 0.2, 1.2, 0.5,
           -0.4, 0.3, 1.85, 0.6, 0.4, 1.0, 0.2, -0.6, 0.4, -0.9,
           0.1, 0.5, 1.2, -0.5, -0.2, 0.6, -1.35, 0.3, -0.4, -0.8,
           -0.6, -1.0, 0.4, 0.3, 1.7, 1.5, 0.2, 1.5, -0.5, 0.4,
           0.1, 1.3, -0.3, 0.6, -0.2, 0.3, -1.2, 0.4, -0.9, -2.25,
           0.2, -0.5, 0.8, 1.55, -0.4, 0.6, -0.8, 0.3, 0.1, 0.9,
           1.2, -0.3, 0.5, 1.55, 0.4, -0.6, 1.3, 0.7, 1.8, 0.5,
           0.2, 1.2, 0.8, 1.5, 1.3, 0.6, 0.9, 1.1, 0.4, 1.3,
           0.7, -0.2, 1.0, 0.5, -0.4, 1.1, -0.2, 0.4, -1.7, 2.6,
           0.5, -0.2, 1.3, 0.4, 1.7, 2.2, 0.8, 0.5, -0.2, 0.6,
           -0.5, 0.2, -0.3, 0.5, -0.8, 0.3, -1.0, 0.1, -0.6, -1.4,
           0.3, 1.95, -0.4, 1.6, 0.5, -0.2, 1.2, -0.5, 0.9, 0.3,
           1.0, 0.4, 2.25, -0.3, 1.9, 2.2, 0.8, 0.3, 1.1, -0.2,
           0.6, 0.2, 1.3, -0.5, 1.2, 1.9, -0.4, 0.5, 0.8, 1.5,
           0.3, -0.2, 0.6, 0.9, 0.5, 0.2, 1.1, 0.6, 0.4, 1.2,
           0.9, 1.5, 2.0, 1.1, 1.6, 2.0]

titles = ['(a) Perc. change PI - NH ASO', '(b) Perc. change PI - SH JFM',
          '(c) Perc. change Latent+Sensible - NH ASO',
          '(d) Perc. change Latent+Sensible - SH JFM',
          '(e) Perc. change (Ts-To)/To - NH ASO',
          '(f) Perc. change (Ts-To)/To - SH JFM',
          '(g) Perc. change Surf. Winds - NH ASO',
          '(h) Perc. change Surf. Winds - SH JFM']
ylabels = ['% PI', '% PI', '% E+H', '% E+H', '% (Ts-To)/To', '% (Ts-To)/To',
           '% -|v|', '% -|v|']
panels = [(pi_nh_k, pi_nh_r, pi_nh_b), (pi_sh_k, pi_sh_r, pi_sh_b),
          (eh_nh_k, eh_nh_r, eh_nh_b), (eh_sh_k, eh_sh_r, eh_sh_b),
          (ts_nh_k, ts_nh_r, ts_nh_b), (ts_sh_k, ts_sh_r, ts_sh_b),
          (uv_nh_k, uv_nh_r, uv_nh_b), (uv_sh_k, uv_sh_r, uv_sh_b)]
colors = ['k', 'r', 'b']

W, H = 1060, 1189
cols = [(61, 502), (606, 1046)]
rows = [(36, 246), (332, 542), (630, 841), (928, 1137)]
grey = '#262626'


def smooth(v, n=5):
    return np.convolve(np.asarray(v, float), np.ones(n) / n, mode='valid')


fig = plt.figure(figsize=(W / 100, H / 100), dpi=100)

for i in range(8):
    x0, x1 = cols[i % 2]
    y0, y1 = rows[i // 2]
    ylim = (-3, 3)
    if i == 3:
        y0 = 344
        ylim = (-3, 2.66)
    ax = fig.add_axes([x0 / W, 1 - y1 / H, (x1 - x0) / W, (y1 - y0) / H])

    for s, c in zip(panels[i], colors):
        ax.plot(years, s, color=c, lw=0.75)
    for s, c in zip(panels[i], colors):
        ax.plot(years[2:-2], smooth(s), color=c, lw=2.6)

    ax.set_xlim(1849.4, 2006)
    ax.set_ylim(*ylim)
    ax.set_xticks([1850, 1900, 1950, 2000])
    if i == 3:
        ax.set_yticks([-2, 0, 2])
    else:
        ax.set_yticks(range(-3, 4))
    ax.tick_params(direction='in', top=True, right=True, length=5, width=0.8,
                   color=grey, labelcolor='#333333', labelsize=13, pad=6)
    for sp in ax.spines.values():
        sp.set_color(grey)
        sp.set_linewidth(0.8)
    ax.set_title(titles[i], fontsize=16, fontweight='bold', color='#1a1a1a', pad=6)
    ax.set_ylabel(ylabels[i], fontsize=15, color='#333333', labelpad=5)
    if i >= 6:
        ax.set_xlabel('Year', fontsize=15.5, color='#333333', labelpad=3)

fig.savefig('out.png', dpi=100)
